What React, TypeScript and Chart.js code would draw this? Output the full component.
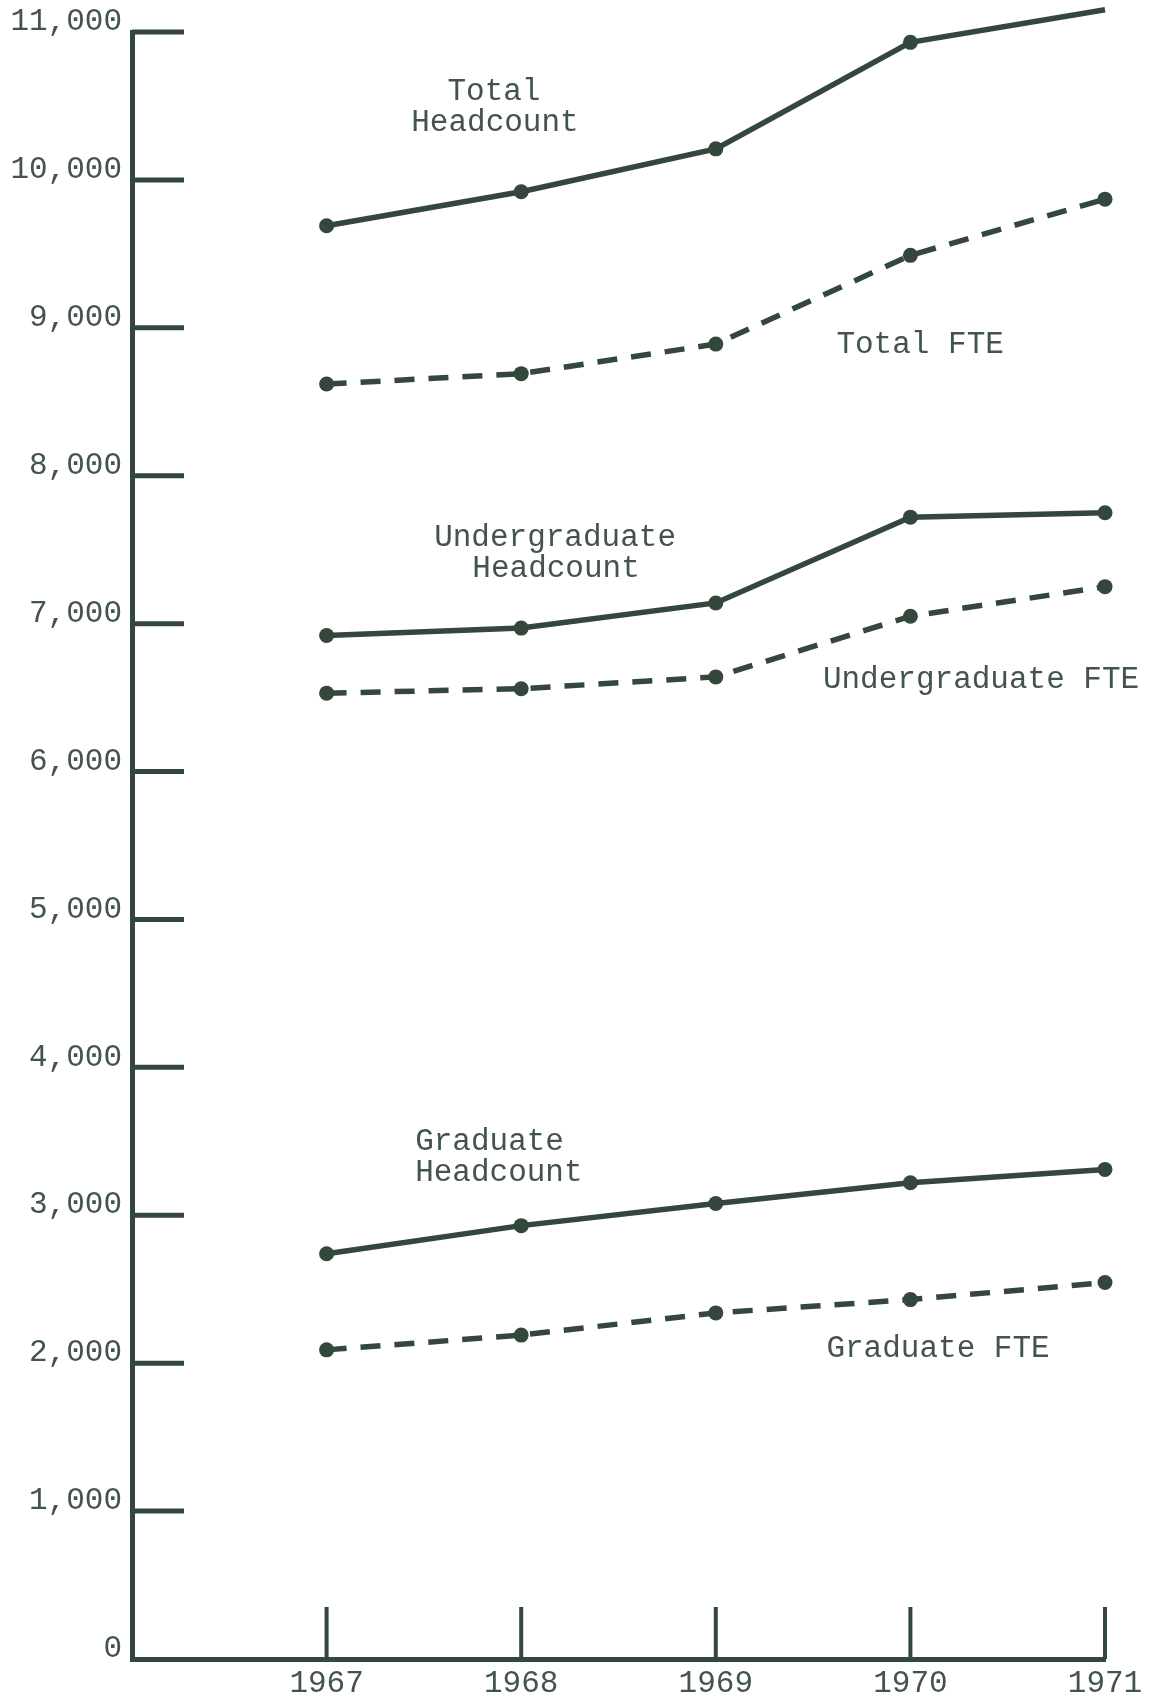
import React, { useEffect, useRef } from "react";
import { Chart, registerables } from "chart.js";

Chart.register(...registerables);

// ---- data ----
const years = [1967, 1968, 1969, 1970, 1971];
const totalHeadcount = [9690, 9920, 10210, 10930, 11150];
const totalFTE = [8620, 8690, 8890, 9490, 9870];
const undergradHeadcount = [6920, 6970, 7140, 7720, 7750];
const undergradFTE = [6530, 6560, 6640, 7050, 7250];
const gradHeadcount = [2740, 2930, 3080, 3220, 3310];
const gradFTE = [2090, 2190, 2340, 2430, 2545];
const yTickValues = [0, 1000, 2000, 3000, 4000, 5000, 6000, 7000, 8000, 9000, 10000, 11000];

// ---- annotation texts (placement kept separately) ----
const annotationTexts = [
  "Total",
  "Headcount",
  "Total FTE",
  "Undergraduate",
  "Headcount",
  "Undergraduate FTE",
  "Graduate",
  "Headcount",
  "Graduate FTE",
];
// [x (year units), y (value units), align]
const annotationPlacement: [number, number, CanvasTextAlign][] = [
  [1967.86, 10594, "center"],
  [1967.865, 10385, "center"],
  [1970.05, 8884, "center"],
  [1968.174, 7579, "center"],
  [1968.179, 7369, "center"],
  [1970.363, 6619, "center"],
  [1967.455, 3495, "left"],
  [1967.455, 3286, "left"],
  [1970.142, 2096, "center"],
];

const INK = "#33473c";
const TEXT = "#43554a";
const FONT = "'Liberation Mono', 'Courier New', monospace";
const FONT_SIZE = 31;

const inkPlugin = {
  id: "inkPlugin",
  afterDraw(chart: any) {
    const { ctx, chartArea, scales } = chart;
    const xs = scales.x;
    const ys = scales.y;
    ctx.save();
    ctx.strokeStyle = INK;
    ctx.lineCap = "butt";
    ctx.lineWidth = 5;
    yTickValues.forEach((v) => {
      if (v === 0) return;
      const py = ys.getPixelForValue(v);
      ctx.beginPath();
      ctx.moveTo(chartArea.left, py);
      ctx.lineTo(chartArea.left + 52, py);
      ctx.stroke();
    });
    ctx.lineWidth = 4;
    years.forEach((v) => {
      const px = xs.getPixelForValue(v);
      ctx.beginPath();
      ctx.moveTo(px, chartArea.bottom);
      ctx.lineTo(px, chartArea.bottom - 52);
      ctx.stroke();
    });
    ctx.fillStyle = TEXT;
    ctx.font = `${FONT_SIZE}px ${FONT}`;
    ctx.textBaseline = "middle";
    annotationTexts.forEach((t, i) => {
      const [ax, ay, align] = annotationPlacement[i];
      ctx.textAlign = align;
      ctx.fillText(t, xs.getPixelForValue(ax), ys.getPixelForValue(ay));
    });
    ctx.restore();
  },
};

function makeSeries(label: string, values: number[], dashed: boolean) {
  return {
    label,
    data: years.map((yr, i) => ({ x: yr, y: values[i] })),
    borderColor: INK,
    backgroundColor: INK,
    pointBackgroundColor: INK,
    pointBorderColor: INK,
    pointBorderWidth: 0,
    pointRadius: 7.5,
    borderWidth: 5.5,
    borderDash: dashed ? [20, 14] : [],
    tension: 0,
    fill: false,
    clip: false,
  };
}

export default function App() {
  const canvasRef = useRef<HTMLCanvasElement | null>(null);

  useEffect(() => {
    if (!canvasRef.current) return;
    const chart = new Chart(canvasRef.current, {
      type: "line",
      data: {
        datasets: [
          makeSeries("Total Headcount", totalHeadcount, false),
          makeSeries("Total FTE", totalFTE, true),
          makeSeries("Undergraduate Headcount", undergradHeadcount, false),
          makeSeries("Undergraduate FTE", undergradFTE, true),
          makeSeries("Graduate Headcount", gradHeadcount, false),
          makeSeries("Graduate FTE", gradFTE, true),
        ],
      },
      options: {
        responsive: false,
        animation: false,
        devicePixelRatio: 1,
        events: [],
        layout: { padding: { left: 0, top: 32, right: 46, bottom: 0 } },
        plugins: {
          legend: { display: false },
          tooltip: { enabled: false },
        },
        scales: {
          x: {
            type: "linear",
            min: 1966,
            max: 1971,
            grid: { display: false, drawTicks: false },
            border: { display: true, width: 5, color: INK },
            afterBuildTicks: (s: any) => {
              s.ticks = years.map((v) => ({ value: v }));
            },
            afterFit: (s: any) => {
              s.height = 41;
            },
            ticks: {
              color: TEXT,
              font: { family: FONT, size: FONT_SIZE },
              padding: 6,
              autoSkip: false,
              maxRotation: 0,
              callback: (v: any) => String(v),
            },
          },
          y: {
            type: "linear",
            min: 0,
            max: 11000,
            grid: { display: false, drawTicks: false },
            border: { display: true, width: 5, color: INK },
            afterBuildTicks: (s: any) => {
              s.ticks = yTickValues.map((v) => ({ value: v }));
            },
            afterFit: (s: any) => {
              s.width = 132;
            },
            ticks: {
              color: TEXT,
              font: { family: FONT, size: FONT_SIZE },
              padding: 10,
              labelOffset: -10,
              autoSkip: false,
              callback: (v: any) => Number(v).toLocaleString("en-US"),
            },
          },
        },
      },
      plugins: [inkPlugin],
    } as any);
    return () => chart.destroy();
  }, []);

  return (
    <div
      style={{
        position: "absolute",
        left: 0,
        top: 0,
        width: 1151,
        height: 1700,
        background: "#ffffff",
      }}
    >
      <canvas ref={canvasRef} width={1151} height={1700} style={{ display: "block" }} />
    </div>
  );
}
